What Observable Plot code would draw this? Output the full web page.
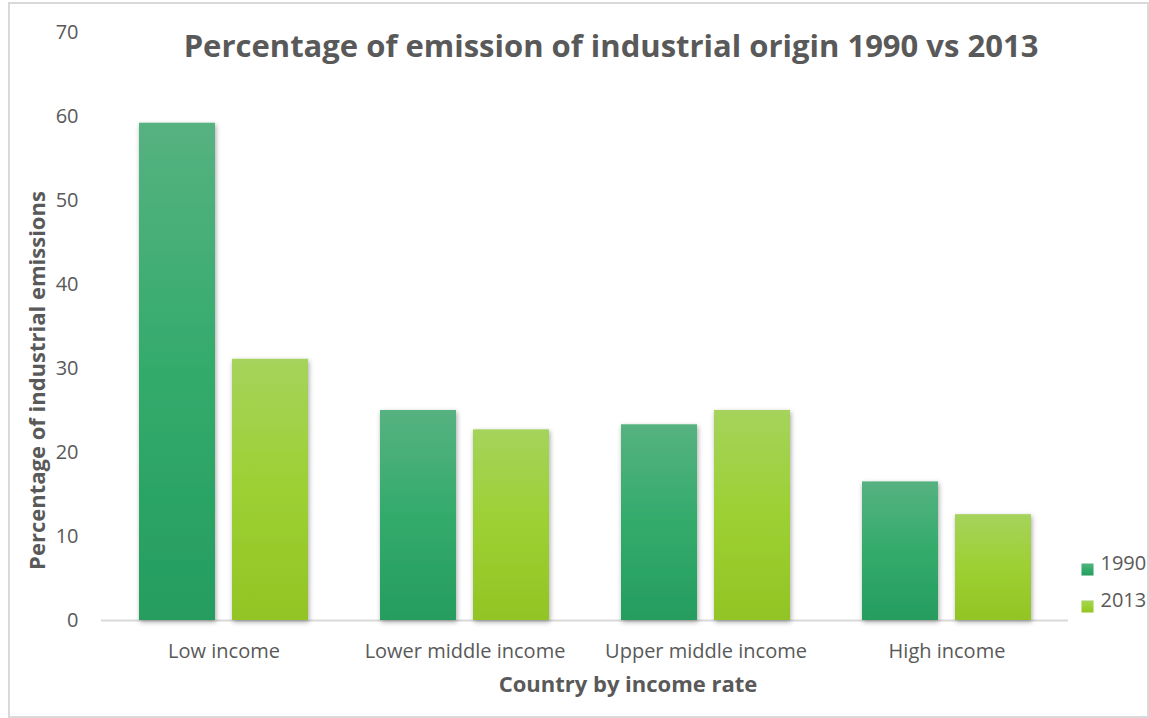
<!DOCTYPE html>
<html>
<head>
<meta charset="utf-8">
<script src="https://cdn.jsdelivr.net/npm/d3@7"></script>
<script src="https://cdn.jsdelivr.net/npm/@observablehq/plot@0.6"></script>
<style>
  html, body { margin: 0; padding: 0; background: #fff; }
  #wrap { position: relative; width: 1149px; height: 718px; }
  #border { position: absolute; left: 8px; top: 2px; width: 1137px; height: 712px; border: 2px solid #d9d9d9; pointer-events: none; }
  g[aria-label="bar"] rect { filter: url(#barShadow); }
</style>
</head>
<body>
<div id="wrap"><div id="border"></div></div>
<script>
const categories = ["Low income", "Lower middle income", "Upper middle income", "High income"];
const values1990 = [59.2, 25.0, 23.3, 16.5];
const values2013 = [31.1, 22.7, 25.0, 12.6];
const years = ["1990", "2013"];
const yTicks = [0, 10, 20, 30, 40, 50, 60, 70];
const titleText = "Percentage of emission of industrial origin 1990 vs 2013";
const yTitle = "Percentage of industrial emissions";
const xTitle = "Country by income rate";

const data1990 = categories.map((c, i) => ({category: c, year: years[0], value: values1990[i]}));
const data2013 = categories.map((c, i) => ({category: c, year: years[1], value: values2013[i]}));

const grey = "#595959";
const font = "'Open Sans', sans-serif";

function defs() {
  const d = d3.create("svg:defs");
  const mk = (id, stops) => {
    const g = d.append("linearGradient").attr("id", id).attr("x1", 0).attr("y1", 0).attr("x2", 0).attr("y2", 1);
    stops.forEach(([o, c]) => g.append("stop").attr("offset", o).attr("stop-color", c));
  };
  mk("g1990", [[0, "#56b281"], [0.5, "#33ab6b"], [1, "#259d5f"]]);
  mk("g2013", [[0, "#a5d35c"], [0.5, "#9dd032"], [1, "#92c425"]]);
  const f = d.append("filter").attr("id", "barShadow").attr("x", "-20%").attr("y", "-10%").attr("width", "140%").attr("height", "125%");
  f.append("feDropShadow").attr("dx", 1).attr("dy", 2).attr("stdDeviation", 2.5).attr("flood-color", "#000").attr("flood-opacity", 0.35);
  return d.node();
}

const chart = Plot.plot({
  width: 1149,
  height: 718,
  marginLeft: 101,
  marginRight: 81,
  marginTop: 32,
  marginBottom: 98,
  style: {fontFamily: font, fontSize: "20px", color: grey, background: "transparent"},
  x: {domain: categories, padding: 0, label: null},
  y: {domain: [0, 70], label: null},
  marks: [
    defs,
    Plot.ruleY([0], {stroke: "#d9d9d9", strokeWidth: 2}),
    Plot.barY(data1990, {x: "category", y: "value", fill: "url(#g1990)", insetLeft: 36, insetRight: 129}),
    Plot.barY(data2013, {x: "category", y: "value", fill: "url(#g2013)", insetLeft: 129, insetRight: 36}),
    Plot.axisY({ticks: yTicks, tickSize: 0, tickPadding: 23, label: null, fontSize: 20}),
    Plot.axisX({tickSize: 0, tickPadding: 23, label: null, fontSize: 20}),
    Plot.text([titleText], {frameAnchor: "top", lineAnchor: "middle", dx: 26, dy: 15, fontSize: 31, fontWeight: "bold", fill: grey, text: d => d}),
    Plot.text([yTitle], {frameAnchor: "left", textAnchor: "middle", lineAnchor: "middle", dx: -64, dy: 54, rotate: -90, fontSize: 22, fontWeight: "bold", fill: grey, text: d => d}),
    Plot.text([xTitle], {frameAnchor: "bottom", lineAnchor: "middle", dx: 43, dy: 64, fontSize: 22, fontWeight: "bold", fill: grey, text: d => d}),
    Plot.dot([years[0]], {frameAnchor: "bottom-right", dx: 19, dy: -51, symbol: "square", r: 6.8, fill: "url(#g1990)", stroke: null}),
    Plot.dot([years[1]], {frameAnchor: "bottom-right", dx: 19, dy: -14, symbol: "square", r: 6.8, fill: "url(#g2013)", stroke: null}),
    Plot.text([years[0]], {frameAnchor: "bottom-right", dx: 32, dy: -51, textAnchor: "start", fontSize: 20, fill: grey, text: d => d}),
    Plot.text([years[1]], {frameAnchor: "bottom-right", dx: 32, dy: -14, textAnchor: "start", fontSize: 20, fill: grey, text: d => d})
  ]
});
document.getElementById("wrap").prepend(chart);
</script>
</body>
</html>
